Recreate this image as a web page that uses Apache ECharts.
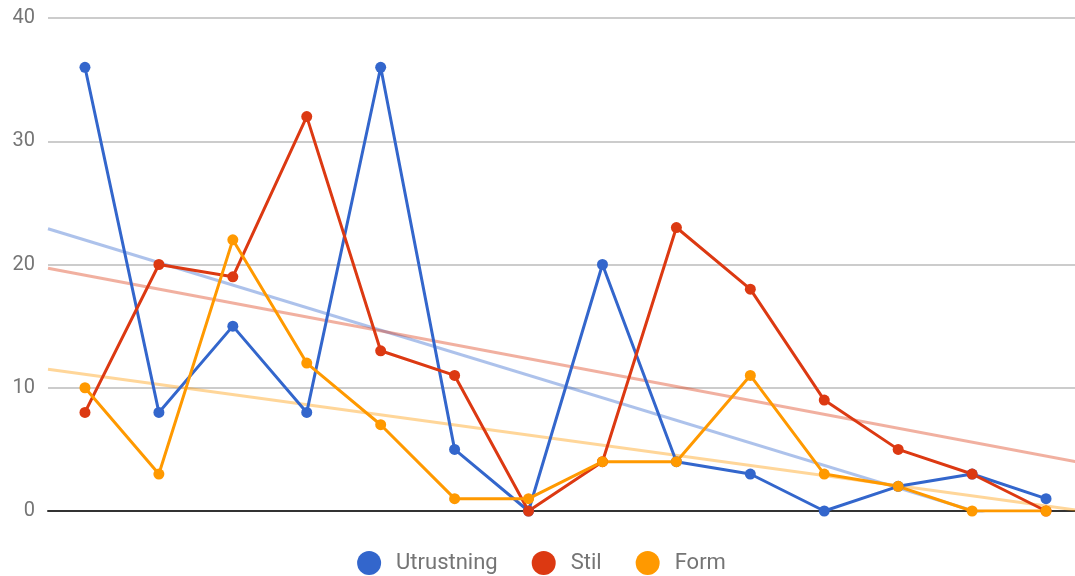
<!DOCTYPE html>
<html>
<head>
<meta charset="utf-8">
<script src="https://cdn.jsdelivr.net/npm/echarts@6/dist/echarts.min.js"></script>
<style>
  html, body { margin: 0; padding: 0; background: #fff; overflow: hidden; }
  #chart { width: 1083px; height: 576px; }
</style>
</head>
<body>
<div id="chart"></div>
<script>
const categories = ['1', '2', '3', '4', '5', '6', '7', '8', '9', '10', '11', '12', '13', '14']
const utrustning = [36, 8, 15, 8, 36, 5, 0, 20, 4, 3, 0, 2, 3, 1]
const stil = [8, 20, 19, 32, 13, 11, 0, 4, 23, 18, 9, 5, 3, 0]
const form = [10, 3, 22, 12, 7, 1, 1, 4, 4, 11, 3, 2, 0, 0]
// trend line end points (left edge, right edge)
const trendX = [-0.5, 13.5]
const utrustningTrend = [22.9, -2.7]
const stilTrend = [19.7, 3.9]
const formTrend = [11.5, 0.0]

const names = ['Utrustning', 'Stil', 'Form']
const colors = ['#3366cc', '#dc3912', '#ff9900']
const trendColors = ['rgba(51,102,204,0.4)', 'rgba(220,57,18,0.4)', 'rgba(255,153,0,0.4)']

// plot runs a little past the right edge of the window, like the original
const chart = echarts.init(document.getElementById('chart'))

const mainSeries = [utrustning, stil, form].map((vals, i) => ({
  name: names[i],
  type: 'line',
  xAxisIndex: 0,
  data: vals,
  symbol: 'circle',
  symbolSize: 11,
  color: colors[i],
  lineStyle: { width: 3, color: colors[i] },
  itemStyle: { color: colors[i] },
  z: 3,
}))

const trendSeries = [utrustningTrend, stilTrend, formTrend].map((vals, i) => ({
  name: names[i] + ' trend',
  type: 'line',
  xAxisIndex: 1,
  data: trendX.map((x, k) => [x, vals[k]]),
  symbol: 'none',
  lineStyle: { width: 3, color: trendColors[i] },
  silent: true,
  z: 2,
}))

chart.setOption({
  animation: false,
  textStyle: { fontFamily: 'Roboto' },
  grid: { left: 48, right: 0, top: 18, bottom: 65 },
  legend: {
    data: names,
    bottom: 1,
    padding: 0,
    left: 'center',
    icon: 'circle',
    itemWidth: 24,
    itemHeight: 24,
    itemGap: 34,
    textStyle: { fontSize: 22, color: '#757575', fontFamily: 'Roboto', padding: [0, 0, 0, 10] },
  },
  xAxis: [
    {
      type: 'category',
      data: categories,
      boundaryGap: true,
      axisLine: { show: true, lineStyle: { color: '#333', width: 2 } },
      axisTick: { show: false },
      axisLabel: { show: false },
      splitLine: { show: false },
    },
    {
      type: 'value',
      min: -0.5,
      max: 13.5,
      show: false,
    },
  ],
  yAxis: {
    type: 'value',
    min: 0,
    max: 40,
    interval: 10,
    axisLine: { show: false },
    axisTick: { show: false },
    axisLabel: { fontSize: 20, color: '#757575', margin: 13, fontFamily: 'Roboto' },
    splitLine: { lineStyle: { color: '#cccccc', width: 2 } },
  },
  series: [...trendSeries, ...mainSeries],
})
</script>
</body>
</html>
